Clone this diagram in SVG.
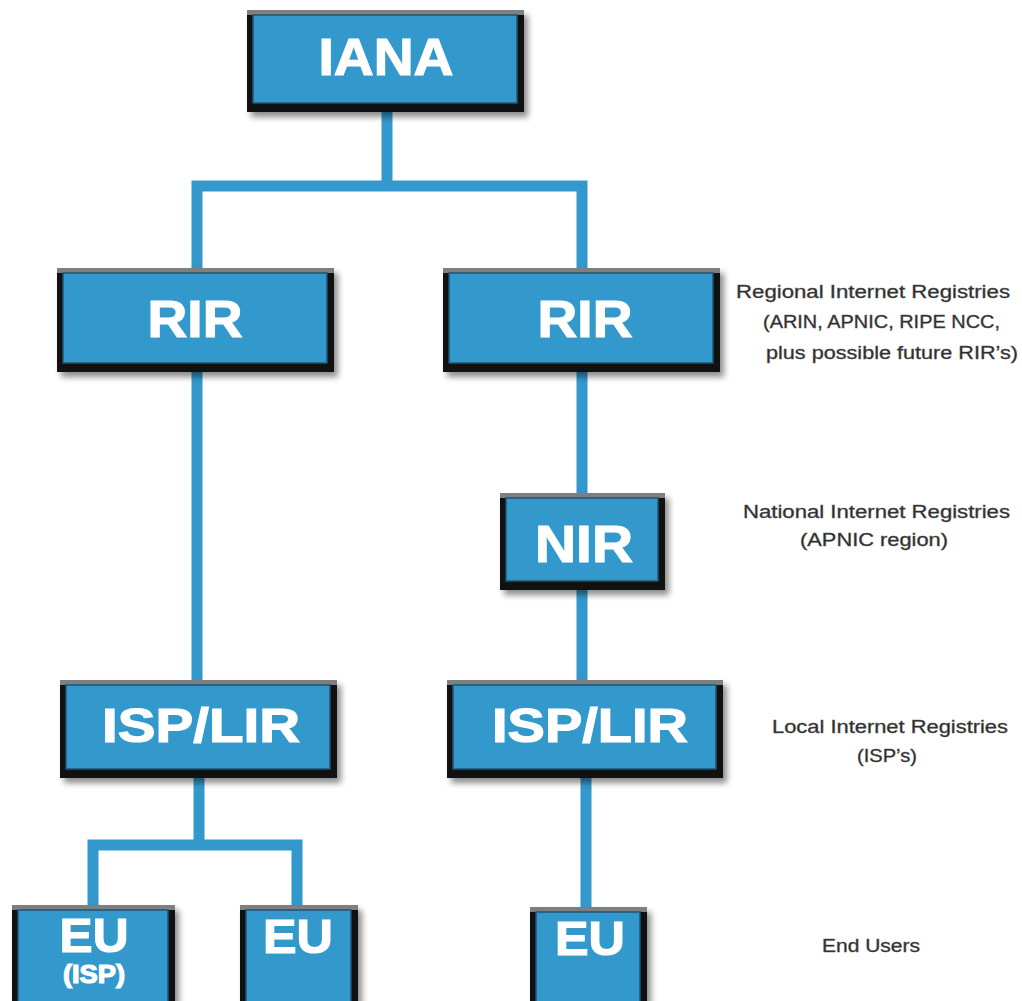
<svg xmlns="http://www.w3.org/2000/svg" width="1022" height="1001" viewBox="0 0 1022 1001">
<defs>
<style>
.conn{fill:none;stroke:#3399cc;stroke-width:11;stroke-linejoin:miter;stroke-linecap:butt}
.shadow{fill:#000;opacity:.45;filter:url(#blur)}
.outer{fill:#111}
.topedge{fill:#7f7f7f}
.inner{fill:#3399cc;stroke:#1d5574;stroke-width:1.5}
.bt{font-family:"Liberation Sans",Arial,sans-serif;font-weight:bold;fill:#fff;stroke:#fff;stroke-width:1.2;text-anchor:middle}
.lab{font-family:"Liberation Sans",Arial,sans-serif;font-size:18px;fill:#2b2b2b;stroke:#555;stroke-width:0.4}
</style>
<filter id="blur" x="-10%" y="-10%" width="120%" height="120%"><feGaussianBlur stdDeviation="3"/></filter>
</defs>
<rect width="1022" height="1001" fill="#fff"/>

<g id="connectors">
<polyline class="conn" points="387,112 387,186"/>
<polyline class="conn" points="197,268 197,186 582,186 582,268"/>
<polyline class="conn" points="197,372 197,680"/>
<polyline class="conn" points="582,372 582,493"/>
<polyline class="conn" points="582,590 582,680"/>
<polyline class="conn" points="586,778 586,907"/>
<polyline class="conn" points="199,778 199,845"/>
<polyline class="conn" points="93,905 93,845 297,845 297,905"/>
</g>

<g id="iana">
<rect class="shadow" x="251" y="15" width="277" height="102"/>
<rect class="outer" x="247" y="10" width="277" height="102"/>
<rect class="topedge" x="247" y="10" width="277" height="5"/>
<rect class="inner" x="253" y="15" width="264" height="88"/>
<text class="bt" x="386" y="75" font-size="52" textLength="135" lengthAdjust="spacingAndGlyphs">IANA</text>
</g>

<g id="rir-left">
<rect class="shadow" x="61" y="273" width="277" height="104"/>
<rect class="outer" x="57" y="268" width="277" height="104"/>
<rect class="topedge" x="57" y="268" width="277" height="5"/>
<rect class="inner" x="63" y="273" width="264" height="90"/>
<text class="bt" x="195" y="337" font-size="52" textLength="95" lengthAdjust="spacingAndGlyphs">RIR</text>
</g>

<g id="rir-right">
<rect class="shadow" x="447" y="273" width="277" height="104"/>
<rect class="outer" x="443" y="268" width="277" height="104"/>
<rect class="topedge" x="443" y="268" width="277" height="5"/>
<rect class="inner" x="449" y="273" width="264" height="90"/>
<text class="bt" x="585" y="337" font-size="52" textLength="95" lengthAdjust="spacingAndGlyphs">RIR</text>
</g>

<g id="nir">
<rect class="shadow" x="504" y="498" width="165" height="97"/>
<rect class="outer" x="500" y="493" width="165" height="97"/>
<rect class="topedge" x="500" y="493" width="165" height="5"/>
<rect class="inner" x="506" y="498" width="152" height="83"/>
<text class="bt" x="584" y="562" font-size="52" textLength="98" lengthAdjust="spacingAndGlyphs">NIR</text>
</g>

<g id="isp-left">
<rect class="shadow" x="64" y="685" width="277" height="98"/>
<rect class="outer" x="60" y="680" width="277" height="98"/>
<rect class="topedge" x="60" y="680" width="277" height="5"/>
<rect class="inner" x="66" y="685" width="264" height="84"/>
<text class="bt" x="201" y="742" font-size="49" textLength="198" lengthAdjust="spacingAndGlyphs">ISP/LIR</text>
</g>

<g id="isp-right">
<rect class="shadow" x="451" y="685" width="276" height="98"/>
<rect class="outer" x="447" y="680" width="276" height="98"/>
<rect class="topedge" x="447" y="680" width="276" height="5"/>
<rect class="inner" x="453" y="685" width="263" height="84"/>
<text class="bt" x="590" y="742" font-size="49" textLength="196" lengthAdjust="spacingAndGlyphs">ISP/LIR</text>
</g>

<g id="eu-isp">
<rect class="shadow" x="16" y="910" width="163" height="110"/>
<rect class="outer" x="12" y="905" width="163" height="110"/>
<rect class="topedge" x="12" y="905" width="163" height="5"/>
<rect class="inner" x="18" y="910" width="150" height="110"/>
<text class="bt" x="94" y="952" font-size="49" textLength="69" lengthAdjust="spacingAndGlyphs">EU</text>
<text class="bt" x="94" y="983" font-size="25" stroke-width="0.6" textLength="62" lengthAdjust="spacingAndGlyphs">(ISP)</text>
</g>

<g id="eu-mid">
<rect class="shadow" x="244" y="910" width="118" height="110"/>
<rect class="outer" x="240" y="905" width="118" height="110"/>
<rect class="topedge" x="240" y="905" width="118" height="5"/>
<rect class="inner" x="246" y="910" width="105" height="110"/>
<text class="bt" x="298" y="953" font-size="49" textLength="70" lengthAdjust="spacingAndGlyphs">EU</text>
</g>

<g id="eu-right">
<rect class="shadow" x="534" y="912" width="117" height="110"/>
<rect class="outer" x="530" y="907" width="117" height="110"/>
<rect class="topedge" x="530" y="907" width="117" height="5"/>
<rect class="inner" x="536" y="912" width="104" height="110"/>
<text class="bt" x="590" y="955" font-size="49" textLength="70" lengthAdjust="spacingAndGlyphs">EU</text>
</g>

<g id="labels">
<text class="lab" x="736" y="298" textLength="274" lengthAdjust="spacingAndGlyphs">Regional Internet Registries</text>
<text class="lab" x="763" y="328" textLength="237" lengthAdjust="spacingAndGlyphs">(ARIN, APNIC, RIPE NCC,</text>
<text class="lab" x="766" y="359" textLength="252" lengthAdjust="spacingAndGlyphs">plus possible future RIR’s)</text>
<text class="lab" x="743" y="518" textLength="267" lengthAdjust="spacingAndGlyphs">National Internet Registries</text>
<text class="lab" x="800" y="546" textLength="148" lengthAdjust="spacingAndGlyphs">(APNIC region)</text>
<text class="lab" x="772" y="733" textLength="236" lengthAdjust="spacingAndGlyphs">Local Internet Registries</text>
<text class="lab" x="857" y="762" textLength="60" lengthAdjust="spacingAndGlyphs">(ISP’s)</text>
<text class="lab" x="822" y="952" textLength="98" lengthAdjust="spacingAndGlyphs">End Users</text>
</g>
</svg>
